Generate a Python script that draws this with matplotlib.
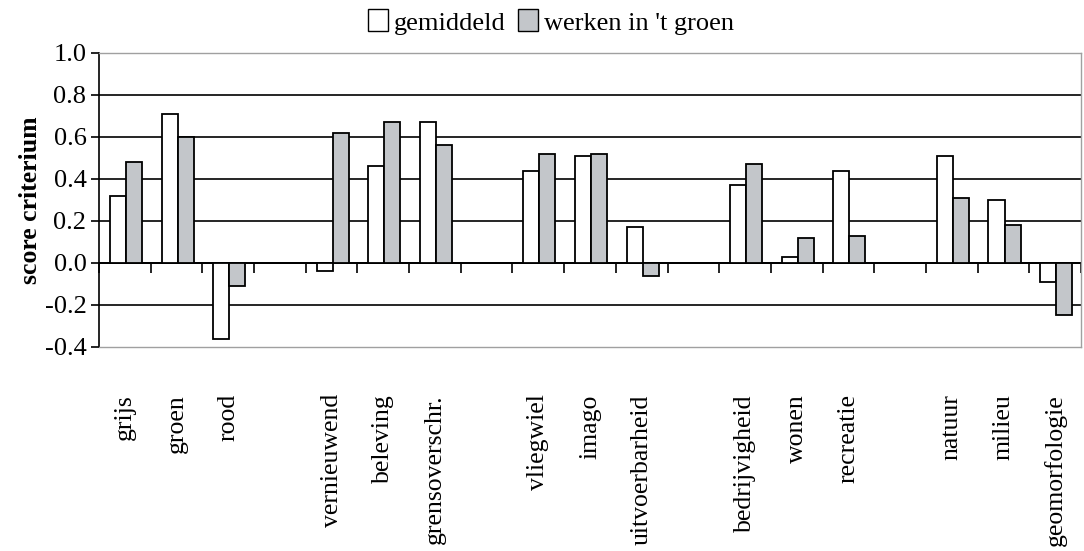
import matplotlib
matplotlib.use("Agg")
import matplotlib.pyplot as plt
from matplotlib.patches import Patch
import numpy as np

plt.rcParams['font.family'] = ['Liberation Serif', 'DejaVu Serif']

categories = ["grijs", "groen", "rood", "",
              "vernieuwend", "beleving", "grensoverschr.", "",
              "vliegwiel", "imago", "uitvoerbarheid", "",
              "bedrijvigheid", "wonen", "recreatie", "",
              "natuur", "milieu", "geomorfologie"]
gemiddeld = [0.32, 0.71, -0.36, np.nan,
             -0.04, 0.46, 0.67, np.nan,
             0.44, 0.51, 0.17, np.nan,
             0.37, 0.03, 0.44, np.nan,
             0.51, 0.30, -0.09]
werken_groen = [0.48, 0.60, -0.11, np.nan,
                0.62, 0.67, 0.56, np.nan,
                0.52, 0.52, -0.06, np.nan,
                0.47, 0.12, 0.13, np.nan,
                0.31, 0.18, -0.25]
yticks = [-0.4, -0.2, 0.0, 0.2, 0.4, 0.6, 0.8, 1.0]
series_names = ["gemiddeld", "werken in 't groen"]

grey = "#c3c6ca"
fig = plt.figure(figsize=(10.84, 5.51), dpi=100)
ax = fig.add_axes([99/1084, 1-347/551, (1081-99)/1084, (347-53)/551])

n = len(categories)
x = np.arange(n)
w = 0.31
ax.bar(x - w/2 + 0.02, gemiddeld, width=w, color="white", edgecolor="black", linewidth=1.3, zorder=3)
ax.bar(x + w/2 + 0.02, werken_groen, width=w, color=grey, edgecolor="black", linewidth=1.3, zorder=3)

ax.set_xlim(-0.5, n - 0.5)
ax.set_ylim(-0.4, 1.0)
ax.set_yticks(yticks)
ax.set_yticklabels([f"{v:.1f}" for v in yticks], fontsize=19)
ax.tick_params(axis="y", direction="out", length=6, width=1.2, pad=3)
ax.yaxis.grid(True, color="black", linewidth=1.2, zorder=1)
ax.set_axisbelow(True)
gl = ax.get_ygridlines()
for i, v in enumerate(yticks):
    if v in (-0.4, 1.0):
        gl[i].set_visible(False)

ax.set_xticks(x)
ax.set_xticklabels(categories, rotation=90, fontsize=18.5, va="top", ha="center")
ax.tick_params(axis="x", length=0, pad=34)

for s in ["top", "right", "bottom"]:
    ax.spines[s].set_color("#a0a0a0")
    ax.spines[s].set_linewidth(1.0)
ax.spines["left"].set_color("black")
ax.spines["left"].set_linewidth(1.2)

# zero axis with category-boundary ticks
sec = ax.secondary_xaxis(0.4/1.4)
sec.set_xticks(np.arange(n + 1) - 0.5)
sec.set_xticklabels([])
sec.tick_params(axis="x", direction="out", length=7, width=1.2)
sec.spines["bottom"].set_color("black")
sec.spines["bottom"].set_linewidth(1.4)

ax.set_ylabel("score criterium", fontsize=18.5, fontweight="bold", labelpad=2)

handles = [Patch(facecolor="white", edgecolor="black", linewidth=1.0),
           Patch(facecolor=grey, edgecolor="black", linewidth=1.0)]
fig.legend(handles, series_names, loc="center", bbox_to_anchor=(551/1084, 1-22/551),
           ncol=2, frameon=False, fontsize=19, handlelength=0.75, handleheight=0.9,
           handletextpad=0.2, columnspacing=0.5)

fig.savefig("out.png", dpi=100)
